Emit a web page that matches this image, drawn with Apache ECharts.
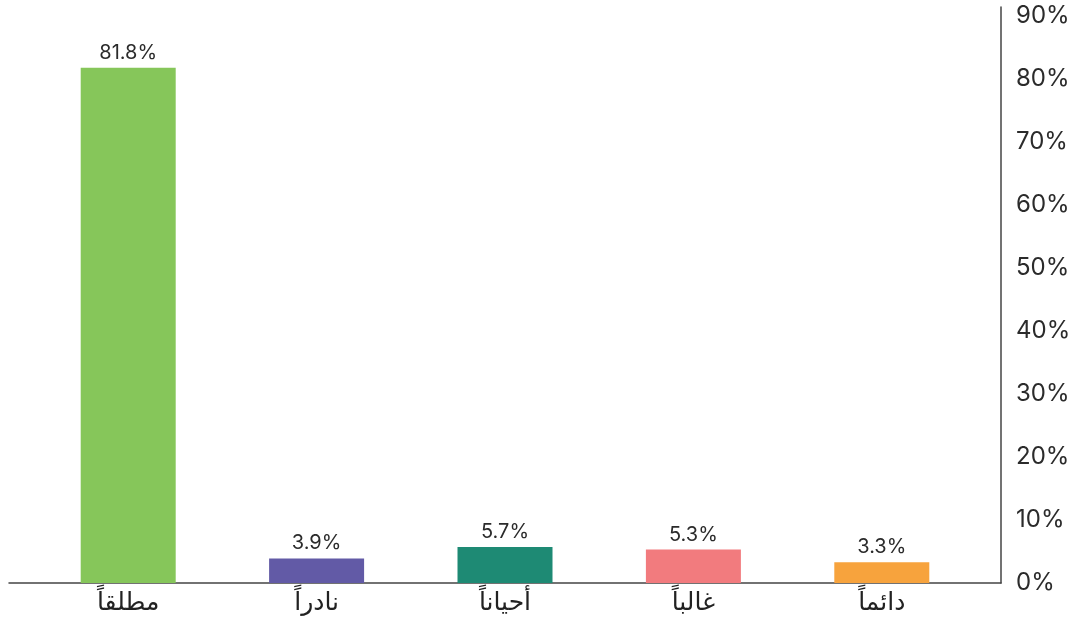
<!DOCTYPE html>
<html>
<head>
<meta charset="utf-8">
<script src="https://cdn.jsdelivr.net/npm/echarts@6/dist/echarts.min.js"></script>
<style>
html,body{margin:0;padding:0;background:#fff;}
#chart{width:1080px;height:628px;}
</style>
</head>
<body>
<div id="chart"></div>
<script>
// categories in Arabic reading order (right to left on screen)
var categories = ['دائماً', 'غالباً', 'أحياناً', 'نادراً', 'مطلقاً'];
var values = [3.3, 5.3, 5.7, 3.9, 81.8];
var barColors = ['#F7A33D', '#F27B7E', '#1E8A74', '#625AA6', '#86C65A'];
var yTicks = [0, 10, 20, 30, 40, 50, 60, 70, 80, 90];

var chart = echarts.init(document.getElementById('chart'));

var option = {
    animation: false,
    grid: [
        // bars
        {left: 34, right: 104, top: 7, bottom: 45},
        // only used for the longer base line
        {left: 9, right: 79, top: 7, bottom: 45}
    ],
    xAxis: [
        {
            type: 'category',
            gridIndex: 0,
            data: categories,
            inverse: true,
            axisLine: {show: false},
            axisTick: {show: false},
            axisLabel: {
                color: '#222',
                fontSize: 25,
                margin: 8,
                fontFamily: 'DejaVu Sans, Noto Sans, sans-serif'
            }
        },
        {
            type: 'category',
            gridIndex: 1,
            data: [''],
            axisLine: {show: true, lineStyle: {color: '#444', width: 1.5}},
            axisTick: {show: false},
            axisLabel: {show: false}
        }
    ],
    yAxis: [
        {
            type: 'value',
            gridIndex: 0,
            position: 'right',
            offset: 25,
            min: yTicks[0],
            max: 91.43,
            interval: 10,
            splitLine: {show: false},
            axisTick: {show: false},
            axisLine: {show: true, lineStyle: {color: '#444', width: 1.5}},
            axisLabel: {
                showMaxLabel: false,
                color: '#2b2b2b',
                fontSize: 24,
                margin: 15,
                fontFamily: 'Inter, sans-serif',
                formatter: function (v) {
                    return yTicks.indexOf(v) >= 0 ? v + '%' : '';
                }
            }
        },
        {
            type: 'value',
            gridIndex: 1,
            show: false
        }
    ],
    series: [
        {
            type: 'bar',
            xAxisIndex: 0,
            yAxisIndex: 0,
            barWidth: 95,
            data: values.map(function (v, i) {
                return {value: v, itemStyle: {color: barColors[i]}};
            }),
            label: {
                show: true,
                position: 'top',
                distance: 5,
                color: '#2b2b2b',
                fontSize: 20,
                fontFamily: 'Inter, sans-serif',
                formatter: function (p) {
                    return p.value.toFixed(1) + '%';
                }
            }
        }
    ]
};

chart.setOption(option);
</script>
</body>
</html>
